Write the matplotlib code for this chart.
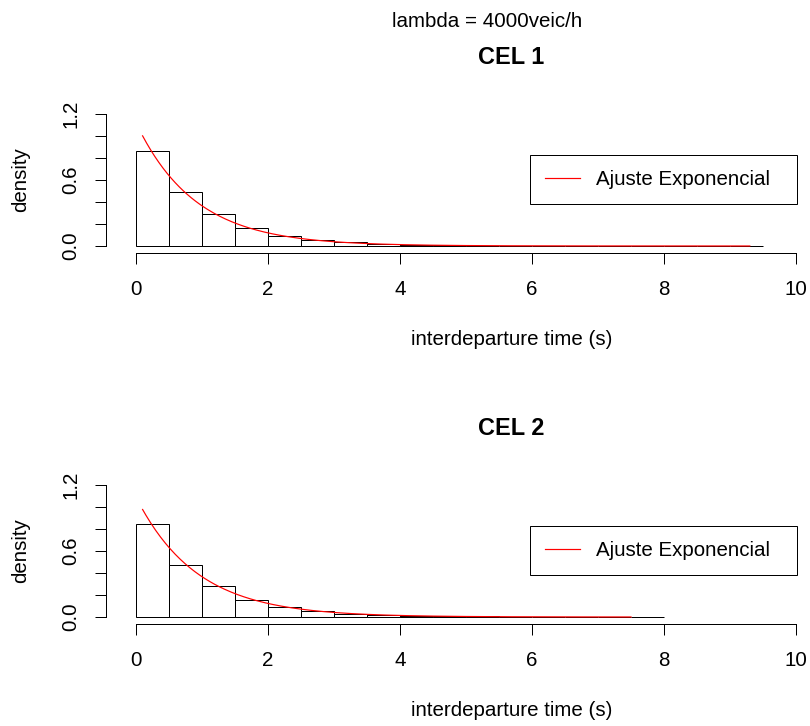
import numpy as np
import matplotlib
matplotlib.use("Agg")
import matplotlib.pyplot as plt

plt.rcParams['font.family'] = ['Liberation Sans', 'DejaVu Sans']

# Histogram data (density per 0.5 s bin) for the two cells
bin_edges_cel1 = [0.0, 0.5, 1.0, 1.5, 2.0, 2.5, 3.0, 3.5, 4.0, 4.5, 5.0,
                  5.5, 6.0, 6.5, 7.0, 7.5, 8.0, 8.5, 9.0, 9.5]
density_cel1 = [0.866, 0.488, 0.288, 0.164, 0.091, 0.055, 0.033, 0.021,
                0.012, 0.007, 0.004, 0.003, 0.002, 0.001, 0.001, 0.0005,
                0.0003, 0.0002, 0.0002]

bin_edges_cel2 = [0.0, 0.5, 1.0, 1.5, 2.0, 2.5, 3.0, 3.5, 4.0, 4.5, 5.0,
                  5.5, 6.0, 6.5, 7.0, 7.5, 8.0]
density_cel2 = [0.843, 0.474, 0.284, 0.154, 0.093, 0.051, 0.030, 0.018,
                0.012, 0.008, 0.005, 0.003, 0.002, 0.001, 0.001, 0.0005]

# Fitted exponential rates and the span over which each fit is drawn
rate_cel1 = 1.12
rate_cel2 = 1.09
fit_span_cel1 = (0.1, 9.3)
fit_span_cel2 = (0.1, 7.5)

titles = ["CEL 1", "CEL 2"]
super_title = "lambda = 4000veic/h"
x_label = "interdeparture time (s)"
y_label = "density"
legend_label = "Ajuste Exponencial"
x_ticks = [0, 2, 4, 6, 8, 10]
y_ticks = [0.0, 0.2, 0.4, 0.6, 0.8, 1.0, 1.2]
y_tick_labels = ["0.0", "", "", "0.6", "", "", "1.2"]

W, H = 810, 726
DPI = 72
fig = plt.figure(figsize=(W / DPI, H / DPI), dpi=DPI)
FS = 20.5


def fx(px):
    return px / W


def fy(py):
    return 1 - py / H


panels = [
    dict(edges=bin_edges_cel1, dens=density_cel1, rate=rate_cel1,
         span=fit_span_cel1, title=titles[0], top=106, bottom=253),
    dict(edges=bin_edges_cel2, dens=density_cel2, rate=rate_cel2,
         span=fit_span_cel2, title=titles[1], top=477, bottom=624),
]

left_px, right_px = 106, 916
for i, p in enumerate(panels):
    ax = fig.add_axes([fx(left_px), fy(p['bottom']),
                       (right_px - left_px) / W, (p['bottom'] - p['top']) / H])
    ax.set_facecolor('none')
    edges = np.asarray(p['edges'])
    ax.bar(edges[:-1], p['dens'], width=np.diff(edges), align='edge',
           color='white', edgecolor='black', linewidth=1.0, zorder=2)
    xs = np.linspace(p['span'][0], p['span'][1], 300)
    ln, = ax.plot(xs, p['rate'] * np.exp(-p['rate'] * xs), color='red',
                  linewidth=1.2, zorder=3, label=legend_label)

    ax.set_xlim(-0.4545, 11.818)
    ax.set_ylim(-0.0636, 1.2727)
    for s in ('top', 'right'):
        ax.spines[s].set_visible(False)
    ax.spines['bottom'].set_bounds(0, 10)
    ax.spines['left'].set_bounds(0, 1.2)
    for s in ('bottom', 'left'):
        ax.spines[s].set_linewidth(1.0)
    ax.set_xticks(x_ticks)
    ax.set_xticklabels([str(t) for t in x_ticks])
    ax.set_yticks(y_ticks)
    ax.set_yticklabels(y_tick_labels, rotation=90, va='center')
    ax.tick_params(axis='both', direction='out', length=11, width=1.0,
                   labelsize=FS, colors='black')
    ax.tick_params(axis='x', pad=16)
    ax.tick_params(axis='y', pad=15)

    off = p['top'] - 106
    fig.text(fx(511), fy(64 + off), p['title'], ha='center', va='baseline',
             fontsize=23.5, fontweight='bold')
    fig.text(fx(512), fy(345 + off), x_label, ha='center', va='baseline',
             fontsize=FS)
    fig.text(fx(21), fy(179.5 + off), y_label, ha='center', va='center',
             rotation=90, fontsize=FS)

    leg = ax.legend(handles=[ln], loc='upper left',
                    bbox_to_anchor=(fx(530), fy(155 + off), fx(797) - fx(530), 0),
                    bbox_transform=fig.transFigure, mode='expand',
                    borderaxespad=0, fontsize=FS, frameon=True, fancybox=False,
                    framealpha=1, edgecolor='black', borderpad=0.72,
                    handlelength=1.7, handletextpad=0.8)
    leg.get_frame().set_linewidth(1.0)
    for h in leg.get_lines():
        h.set_color('red')
        h.set_linewidth(1.2)

fig.text(fx(486.7), fy(26.7), super_title, ha='center', va='baseline',
         fontsize=FS)

fig.savefig("out.png", dpi=DPI)
